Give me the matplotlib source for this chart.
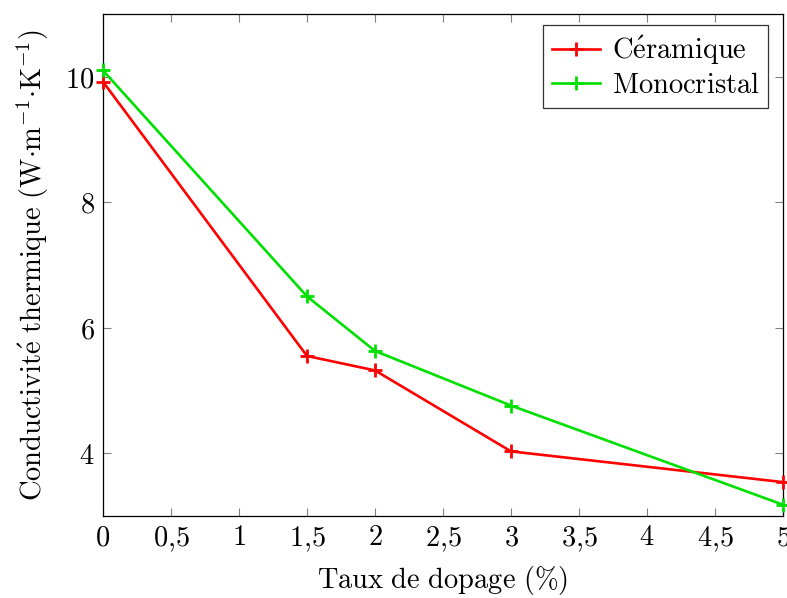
import matplotlib
matplotlib.use("Agg")
import matplotlib.pyplot as plt
from matplotlib.ticker import FixedLocator, FuncFormatter

plt.rcParams["mathtext.fontset"] = "cm"
plt.rcParams["font.family"] = "DejaVu Serif"

# doping rate (%) and thermal conductivity (W/m/K)
dopage = [0, 1.5, 2, 3, 5]
ceramique = [9.92, 5.55, 5.32, 4.03, 3.54]
monocristal = [10.10, 6.50, 5.63, 4.76, 3.18]

x_ticks = [0, 0.5, 1, 1.5, 2, 2.5, 3, 3.5, 4, 4.5, 5]
y_ticks = [4, 6, 8, 10]

RED = "#ff0000"
GREEN = "#00e000"
FS = 20.5


def fmt_tick(v, pos):
    s = f"{v:g}".replace(".", "{,}")
    return f"${s}$"


fig = plt.figure(figsize=(7.87, 5.98), dpi=100)
ax = fig.add_axes([103 / 787, 1 - 516 / 598, 680 / 787, 502 / 598])

ax.plot(dopage, ceramique, color=RED, lw=1.9, marker="+", ms=10, mew=2,
        label=r"$\mathrm{C\acute{e}ramique}$", clip_on=False, zorder=3)
ax.plot(dopage, monocristal, color=GREEN, lw=1.9, marker="+", ms=10, mew=2,
        label=r"$\mathrm{Monocristal}$", clip_on=False, zorder=3)

ax.set_xlim(0, 5)
ax.set_ylim(3, 11)
ax.xaxis.set_major_locator(FixedLocator(x_ticks))
ax.yaxis.set_major_locator(FixedLocator(y_ticks))
ax.xaxis.set_major_formatter(FuncFormatter(fmt_tick))
ax.yaxis.set_major_formatter(FuncFormatter(fmt_tick))
ax.tick_params(direction="in", length=6, width=0.8, color="0.5",
               top=True, right=True, labelsize=FS, pad=6)

for sp in ax.spines.values():
    sp.set_linewidth(0.9)

ax.set_xlabel(r"$\mathrm{Taux\ de\ dopage\ (\%)}$", fontsize=FS, labelpad=7)
ax.set_ylabel(r"$\mathrm{Conductivit\acute{e}\ thermique\ (W{\cdot}m^{-1}{\cdot}K^{-1})}$",
              fontsize=FS, labelpad=10)

leg = ax.legend(loc="upper right", fontsize=FS, fancybox=False, framealpha=1,
                edgecolor="0.2", handlelength=1.7, borderpad=0.3,
                labelspacing=0.2, handletextpad=0.4, borderaxespad=0,
                bbox_to_anchor=(0.978, 0.978))
leg.get_frame().set_linewidth(0.9)

fig.savefig("out.png", dpi=100)
